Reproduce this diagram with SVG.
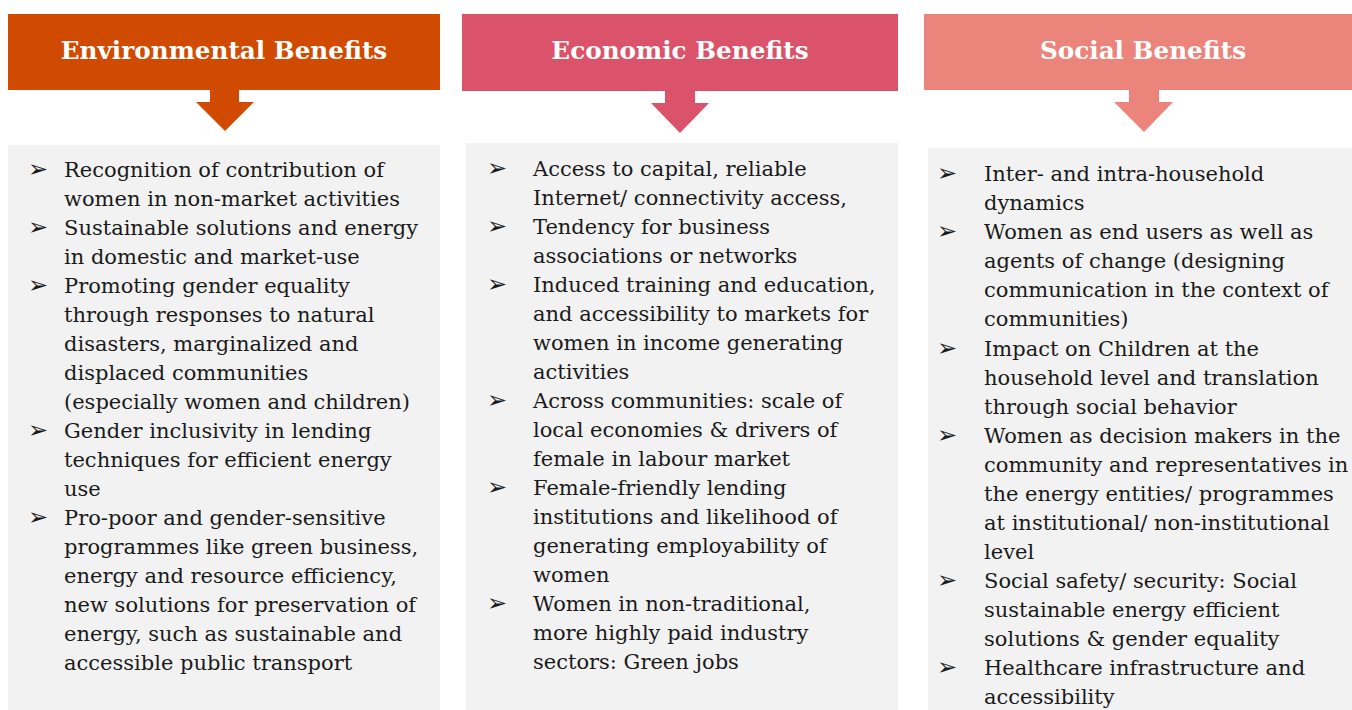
<svg xmlns="http://www.w3.org/2000/svg" width="1352" height="710" viewBox="0 0 1352 710">
<style>
.hd{font-family:"DejaVu Serif","Liberation Serif",serif;font-weight:bold;font-size:24.7px;fill:#fff;text-anchor:middle}
.t{font-family:"DejaVu Serif","Liberation Serif",serif;font-size:21px;fill:#1a1a1a}
.b{font-family:"DejaVu Sans",sans-serif;font-size:24px;fill:#1a1a1a}
.panel{fill:#F2F2F2}
</style>
<rect width="1352" height="710" fill="#fff"/>
<g id="env">
<rect x="8" y="14" width="432" height="76" fill="#D04A02"/>
<polygon points="210,90 239,90 239,102 254,102 225,131 196,102 210,102" fill="#D04A02"/>
<text class="hd" x="224" y="59">Environmental Benefits</text>
<rect class="panel" x="8" y="145" width="432" height="565"/>
<g class="b"><text x="28" y="177">➢</text><text x="28" y="235">➢</text><text x="28" y="293">➢</text><text x="28" y="438">➢</text><text x="28" y="525">➢</text></g>
<g class="t">
<text x="64" y="177">Recognition of contribution of</text>
<text x="64" y="206">women in non-market activities</text>
<text x="64" y="235">Sustainable solutions and energy</text>
<text x="64" y="264">in domestic and market-use</text>
<text x="64" y="293">Promoting gender equality</text>
<text x="64" y="322">through responses to natural</text>
<text x="64" y="351">disasters, marginalized and</text>
<text x="64" y="380">displaced communities</text>
<text x="64" y="409">(especially women and children)</text>
<text x="64" y="438">Gender inclusivity in lending</text>
<text x="64" y="467">techniques for efficient energy</text>
<text x="64" y="496">use</text>
<text x="64" y="525">Pro-poor and gender-sensitive</text>
<text x="64" y="554">programmes like green business,</text>
<text x="64" y="583">energy and resource efficiency,</text>
<text x="64" y="612">new solutions for preservation of</text>
<text x="64" y="641">energy, such as sustainable and</text>
<text x="64" y="670">accessible public transport</text>
</g>
</g>
<g id="econ">
<rect x="462" y="14" width="436" height="77" fill="#DB536A"/>
<polygon points="665,91 695,91 695,103 709,103 680,133 651,103 665,103" fill="#DB536A"/>
<text class="hd" x="680" y="59">Economic Benefits</text>
<rect class="panel" x="466" y="143" width="432" height="567"/>
<g class="b"><text x="487" y="176">➢</text><text x="487" y="234">➢</text><text x="487" y="292">➢</text><text x="487" y="408">➢</text><text x="487" y="495">➢</text><text x="487" y="611">➢</text></g>
<g class="t">
<text x="533" y="176">Access to capital, reliable</text>
<text x="533" y="205">Internet/ connectivity access,</text>
<text x="533" y="234">Tendency for business</text>
<text x="533" y="263">associations or networks</text>
<text x="533" y="292">Induced training and education,</text>
<text x="533" y="321">and accessibility to markets for</text>
<text x="533" y="350">women in income generating</text>
<text x="533" y="379">activities</text>
<text x="533" y="408">Across communities: scale of</text>
<text x="533" y="437">local economies &amp; drivers of</text>
<text x="533" y="466">female in labour market</text>
<text x="533" y="495">Female-friendly lending</text>
<text x="533" y="524">institutions and likelihood of</text>
<text x="533" y="553">generating employability of</text>
<text x="533" y="582">women</text>
<text x="533" y="611">Women in non-traditional,</text>
<text x="533" y="640">more highly paid industry</text>
<text x="533" y="669">sectors: Green jobs</text>
</g>
</g>
<g id="soc">
<rect x="924" y="14" width="428" height="76" fill="#EB847B"/>
<polygon points="1129,90 1159,90 1159,102 1173,102 1144,132 1114,102 1129,102" fill="#EB847B"/>
<text class="hd" x="1143" y="59">Social Benefits</text>
<rect class="panel" x="928" y="148" width="424" height="562"/>
<g class="b"><text x="937" y="181">➢</text><text x="937" y="239">➢</text><text x="937" y="356">➢</text><text x="937" y="443">➢</text><text x="937" y="588">➢</text><text x="937" y="675">➢</text></g>
<g class="t">
<text x="984" y="181">Inter- and intra-household</text>
<text x="984" y="210">dynamics</text>
<text x="984" y="239">Women as end users as well as</text>
<text x="984" y="268">agents of change (designing</text>
<text x="984" y="297">communication in the context of</text>
<text x="984" y="326">communities)</text>
<text x="984" y="356">Impact on Children at the</text>
<text x="984" y="385">household level and translation</text>
<text x="984" y="414">through social behavior</text>
<text x="984" y="443">Women as decision makers in the</text>
<text x="984" y="472">community and representatives in</text>
<text x="984" y="501">the energy entities/ programmes</text>
<text x="984" y="530">at institutional/ non-institutional</text>
<text x="984" y="559">level</text>
<text x="984" y="588">Social safety/ security: Social</text>
<text x="984" y="617">sustainable energy efficient</text>
<text x="984" y="646">solutions &amp; gender equality</text>
<text x="984" y="675">Healthcare infrastructure and</text>
<text x="984" y="704">accessibility</text>
</g>
</g>
</svg>
